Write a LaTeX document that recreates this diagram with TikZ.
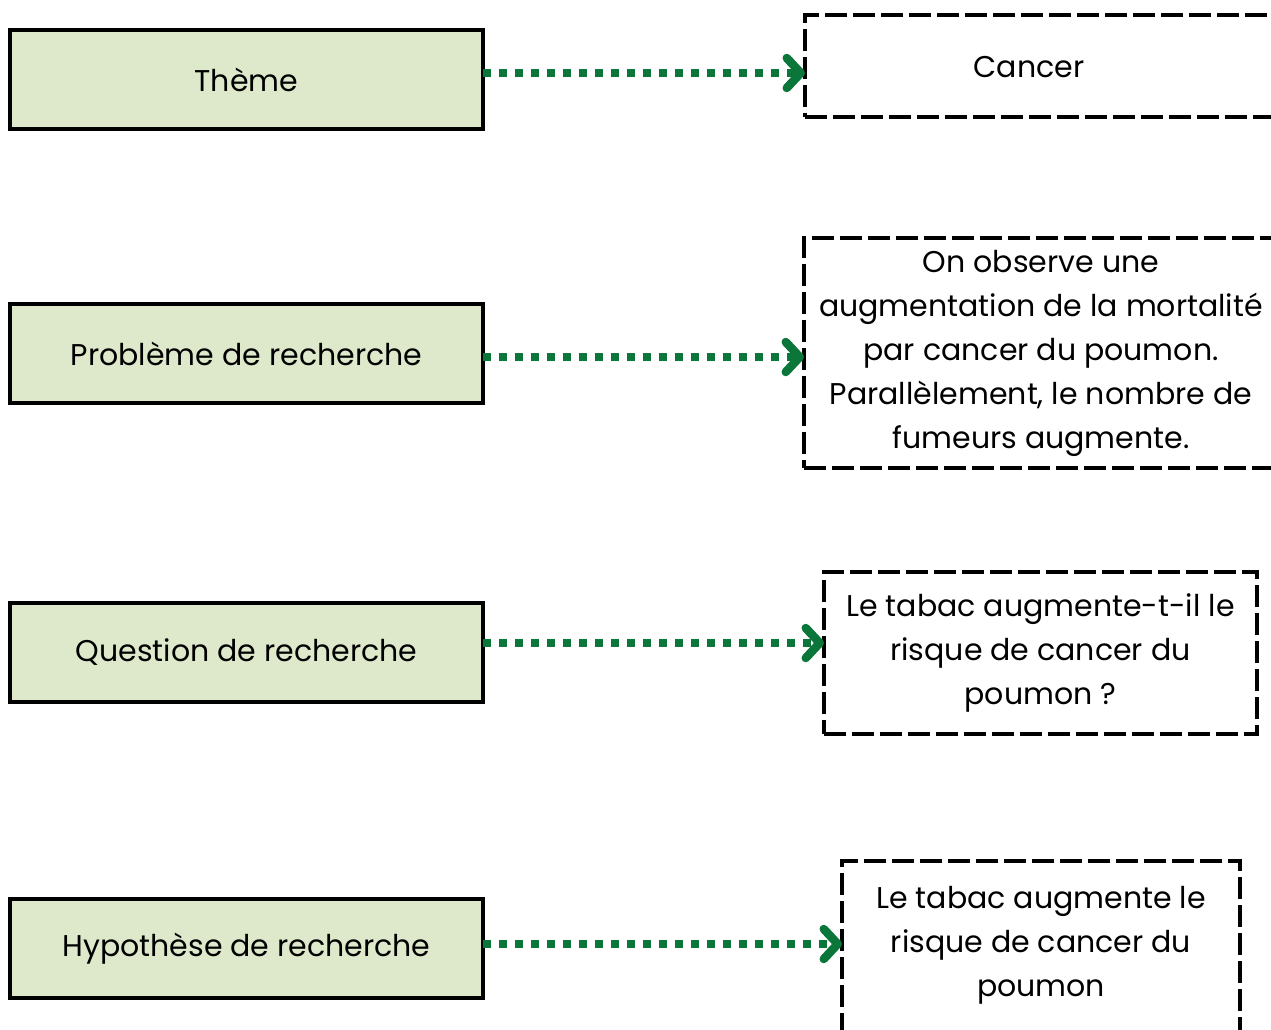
\documentclass[tikz,border=0pt]{standalone}
\usepackage{fontspec}
\setmainfont{Poppins}
\usetikzlibrary{arrows.meta}
\definecolor{boxgreen}{RGB}{221,233,202}
\definecolor{arrgreen}{RGB}{11,118,58}
\tikzset{
  lbox/.style={draw=black, line width=4pt, fill=boxgreen, minimum width=473pt, minimum height=99pt, inner sep=0pt, outer sep=0pt, font=\fontsize{30}{44}\selectfont},
  rbox/.style={draw=black, line width=4pt, dash pattern=on 22pt off 6pt, minimum width=#1, inner sep=0pt, outer sep=0pt, align=center, font=\fontsize{30}{44}\selectfont},
  txt/.style={inner sep=0pt, align=center, font=\fontsize{30}{44}\selectfont},
  arr/.style={draw=arrgreen, line width=7.5pt, dash pattern=on 8pt off 8pt,
    -{Straight Barb[length=14pt, width=30pt, line width=8.5pt, round]}}
}
\begin{document}
\begin{tikzpicture}[x=1pt,y=-1pt]
\useasboundingbox (0,0) rectangle (1271,1030);
\clip (0,0) rectangle (1271,1030);
\fill[white] (0,0) rectangle (1271,1030);
% left boxes
\node[lbox] (l1) at (246.5,79.5) {Thème};
\node[lbox] (l2) at (246.5,353.5) {Problème de recherche};
\node[lbox] (l3) at (246.5,652.5) {Question de recherche};
\node[lbox] (l4) at (246.5,948.5) {Hypothèse de recherche};
% right boxes
\node[rbox=474pt, minimum height=102pt] (r1) at (1042,66) {};
\node[txt] (t1) at (1029,67) {Cancer};
\node[rbox=474pt, minimum height=230pt] (r2) at (1041,353) {On observe une\\augmentation de la mortalité\\par cancer du poumon.\\Parallèlement, le nombre de\\fumeurs augmente.};
\node[rbox=433pt, minimum height=162pt] (r3) at (1040.5,653) {Le tabac augmente-t-il le\\risque de cancer du\\poumon ?};
\node[rbox=398pt, minimum height=200pt] (r4) at (1041,961) {};
\node[txt] (t4) at (1041,945) {Le tabac augmente le\\risque de cancer du\\poumon};
% arrows
\draw[arr] ([yshift=6.5pt]l1.east) -- ([yshift=-7pt]r1.west);
\draw[arr] ([yshift=-3.5pt]l2.east) -- ([yshift=-4pt]r2.west);
\draw[arr] ([yshift=9.5pt]l3.east) -- ([yshift=10pt]r3.west);
\draw[arr] ([yshift=4.5pt]l4.east) -- ([yshift=17pt]r4.west);
\end{tikzpicture}
\end{document}
